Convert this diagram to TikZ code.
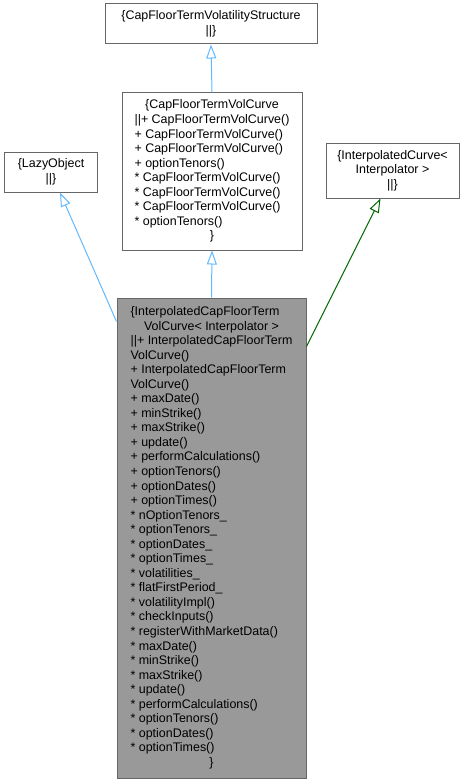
\documentclass[tikz,border=0pt]{standalone}
\usepackage{fontspec}
\setmainfont{Liberation Sans}
\usetikzlibrary{arrows.meta}
\definecolor{edgeblue}{HTML}{63B8FF}
\definecolor{edgegreen}{HTML}{006400}
\definecolor{boxline}{HTML}{666666}
\definecolor{boxfill}{HTML}{999999}
\newcommand{\ctrline}[1]{\multicolumn{1}{@{}c@{}}{#1}}

\begin{document}
\begin{tikzpicture}
[x=1bp,y=-1bp,
class/.style={rectangle,draw=boxline,fill=white,line width=1bp,inner sep=0pt,
  font=\fontsize{12.5}{14.6}\selectfont},
shortclass/.style={class,align=center},
focus/.style={class,fill=boxfill},
inherit/.style={draw=edgeblue,line width=1bp,-{Triangle[open,length=14bp,width=10bp]}},
template/.style={inherit,draw=edgegreen}]
\useasboundingbox (0,0) rectangle (465,784);
\node (struct) at (211,24) [shortclass,minimum width=212bp,minimum height=40bp]
  {\{CapFloorTermVolatilityStructure\\||\}};
\node (volcurve) at (212,171.5) [class,minimum width=180bp,minimum height=157bp]
  {\begin{tabular}{@{}l@{}}
  \ctrline{\{CapFloorTermVolCurve}\\
  ||+ CapFloorTermVolCurve()\\
  + CapFloorTermVolCurve()\\
  + CapFloorTermVolCurve()\\
  + optionTenors()\\
  {*} CapFloorTermVolCurve()\\
  {*} CapFloorTermVolCurve()\\
  {*} CapFloorTermVolCurve()\\
  {*} optionTenors()\\
  \ctrline{\}}
  \end{tabular}};
\node (lazy) at (51,172) [shortclass,minimum width=92bp,minimum height=40bp]
  {\{LazyObject\\||\}};
\node (curve) at (392.5,170.5) [shortclass,minimum width=133bp,minimum height=55bp]
  {\{InterpolatedCurve<\\Interpolator >\\||\}};
\node (main) at (211.5,538) [focus,minimum width=189bp,minimum height=480bp]
  {\begin{tabular}{@{}l@{}}
  \{InterpolatedCapFloorTerm\\
  \ctrline{VolCurve< Interpolator >}\\
  ||+ InterpolatedCapFloorTerm\\
  VolCurve()\\
  + InterpolatedCapFloorTerm\\
  VolCurve()\\
  + maxDate()\\
  + minStrike()\\
  + maxStrike()\\
  + update()\\
  + performCalculations()\\
  + optionTenors()\\
  + optionDates()\\
  + optionTimes()\\
  {*} nOptionTenors\_\\
  {*} optionTenors\_\\
  {*} optionDates\_\\
  {*} optionTimes\_\\
  {*} volatilities\_\\
  {*} flatFirstPeriod\_\\
  {*} volatilityImpl()\\
  {*} checkInputs()\\
  {*} registerWithMarketData()\\
  {*} maxDate()\\
  {*} minStrike()\\
  {*} maxStrike()\\
  {*} update()\\
  {*} performCalculations()\\
  {*} optionTenors()\\
  {*} optionDates()\\
  {*} optionTimes()\\
  \ctrline{\}}
  \end{tabular}};
\draw[inherit] (volcurve.north) -- (struct.south);
\draw[inherit] (main.north) -- (volcurve.south);
\draw[inherit] ([yshift=-24bp]main.north west) -- ([xshift=9bp]lazy.south);
\draw[template] ([yshift=-49bp]main.north east) -- ([xshift=-12bp]curve.south);
\end{tikzpicture}
\end{document}
